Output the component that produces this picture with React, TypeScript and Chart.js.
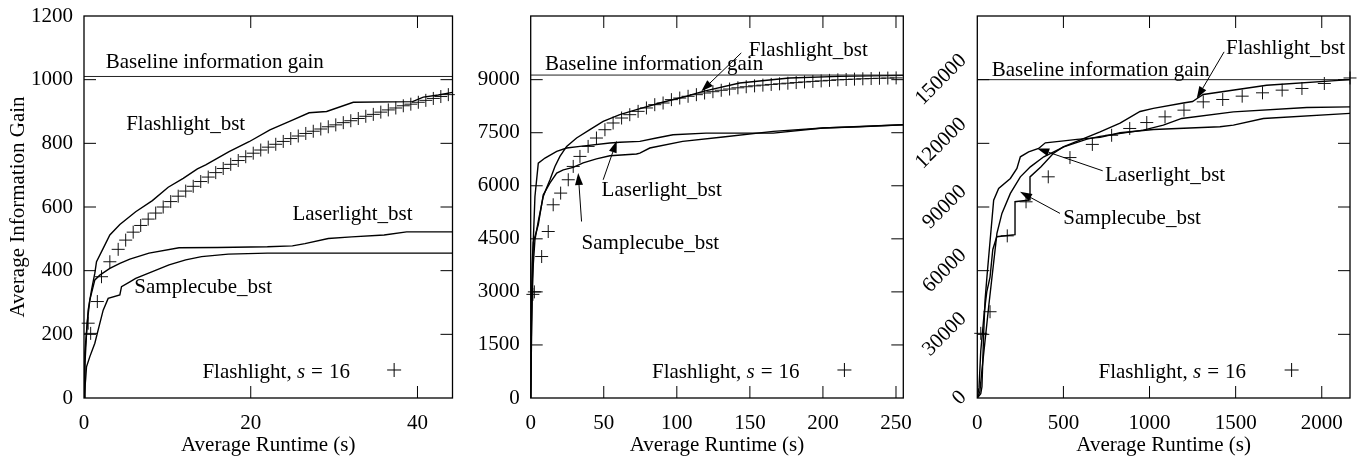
import React, { useEffect, useRef } from 'react';
import { Chart, registerables } from 'chart.js';

Chart.register(...registerables);

const FONT = "'Liberation Serif', 'Times New Roman', serif";
const FS = 21;

// ---------- shared ----------
const baselineGain = [1010, 9130, 150000];
const xMaxes = [44.2, 255, 2164];
const yMaxes = [1200, 10800, 180000];

// ---------- panel 1 ----------
const p1XTicks = [0, 20, 40];
const p1YTicks = [0, 200, 400, 600, 800, 1000, 1200];
const p1FlashBstX = [0, 0.1, 0.3, 0.5, 0.9, 1.3, 1.5, 2.3, 3.1, 4.3, 6.2, 8.2, 10.1, 11.9, 13.6, 14.6, 17.4, 19.8, 22.3, 25, 27, 29.1, 32.3, 39.4, 40.7, 42.5, 44.2];
const p1FlashBstY = [0, 100, 200, 276, 339, 392, 428, 470, 512, 545, 585, 620, 662, 690, 720, 732, 774, 805, 842, 873, 896, 900, 929, 931, 945, 952, 960];
const p1LaserX = [0, 0.1, 0.4, 0.7, 1.3, 1.9, 3.1, 4.3, 5.5, 7.8, 11.4, 16, 22, 25, 26.5, 29.3, 32.1, 36, 38.7, 44.2];
const p1LaserY = [0, 141, 240, 308, 371, 386, 407, 423, 436, 455, 472, 473, 475, 478, 485, 501, 506, 512, 522, 522];
const p1SampleX = [0, 0.2, 0.3, 0.7, 1.3, 1.7, 2.3, 2.9, 4.3, 4.5, 5.5, 6.2, 8.2, 10.2, 12.2, 14.1, 17.3, 22, 44.2];
const p1SampleY = [0, 60, 98, 130, 172, 214, 276, 313, 324, 350, 365, 376, 397, 418, 434, 444, 452, 455, 455];
const p1CrossX = [0.5, 0.8, 1.6, 2.1, 3.1, 4.1, 5.0, 5.9, 6.8, 7.7, 8.6, 9.5, 10.4, 11.3, 12.2, 13.1, 14.0, 14.9, 15.8, 16.7, 17.6, 18.5, 19.4, 20.3, 21.2, 22.1, 23.0, 23.9, 24.8, 25.7, 26.6, 27.5, 28.4, 29.3, 30.2, 31.1, 32.0, 32.9, 33.8, 34.7, 35.6, 36.5, 37.4, 38.3, 39.2, 40.1, 41.0, 41.9, 42.8, 43.7];
const p1CrossY = [235, 203, 303, 381, 428, 467, 496, 521, 542, 562, 581, 600, 617, 634, 650, 665, 680, 694, 708, 721, 734, 746, 758, 769, 779, 788, 797, 806, 815, 823, 831, 838, 845, 852, 858, 865, 871, 878, 885, 891, 898, 905, 911, 918, 923, 929, 935, 941, 947, 953];

// ---------- panel 2 ----------
const p2XTicks = [0, 50, 100, 150, 200, 250];
const p2YTicks = [0, 1500, 3000, 4500, 6000, 7500, 9000];
const p2FlashBstX = [0, 0.5, 1.0, 1.8, 2.9, 5.2, 8.6, 11, 13.2, 16.6, 20, 24.6, 31.4, 40.5, 49.6, 61, 72.4, 88.3, 106.6, 118, 143, 177, 211, 255];
const p2FlashBstY = [0, 1500, 2800, 3800, 4472, 5000, 5698, 5950, 6170, 6547, 6830, 7113, 7350, 7585, 7821, 8010, 8151, 8340, 8530, 8670, 8906, 9047, 9094, 9120];
const p2LaserX = [0, 0.5, 1.0, 1.8, 2.9, 5.2, 9.8, 17.8, 24.6, 33.7, 54.2, 61, 74.7, 86, 97.4, 120, 166, 200, 225, 255];
const p2LaserY = [0, 2500, 3800, 4472, 5698, 6642, 6784, 6972, 7068, 7113, 7208, 7230, 7254, 7350, 7444, 7490, 7490, 7633, 7670, 7727];
const p2SampleX = [0, 0.5, 1.0, 1.8, 5.2, 8.6, 13.2, 17.8, 22.3, 29.1, 35.9, 45, 54.2, 72.4, 74.7, 81.5, 104, 131.6, 166, 200, 255];
const p2SampleY = [0, 2000, 3200, 4400, 4900, 5745, 6080, 6360, 6450, 6520, 6650, 6760, 6850, 6900, 6925, 7068, 7254, 7379, 7538, 7633, 7727];
const p2CrossX = [1.5, 2.5, 7.5, 12, 15.4, 20.5, 25.7, 29.1, 33.7, 39.3, 45, 50.8, 56.4, 62.2, 67.8, 73.5, 79.2, 84.9, 90.6, 96.3, 102, 107.7, 113.4, 119, 124.7, 130.4, 136.1, 141.8, 147.5, 153.2, 158.9, 164.6, 170.3, 176, 181.7, 187.4, 193.1, 198.8, 204.5, 210.2, 215.9, 221.6, 227.3, 233, 238.7, 244.4, 250.1];
const p2CrossY = [2930, 3000, 4000, 4707, 5463, 5793, 6170, 6547, 6830, 7113, 7350, 7585, 7775, 7916, 8010, 8104, 8200, 8293, 8340, 8435, 8480, 8530, 8576, 8623, 8660, 8700, 8735, 8770, 8800, 8825, 8845, 8865, 8882, 8900, 8918, 8935, 8950, 8965, 8980, 8995, 9005, 9015, 9025, 9032, 9040, 9045, 9050];

// ---------- panel 3 ----------
const p3XTicks = [0, 500, 1000, 1500, 2000];
const p3YTicks = [0, 30000, 60000, 90000, 120000, 150000];
const p3FlashBstX = [0, 10, 20, 40, 55, 74, 90, 113, 219, 219, 306, 306, 370, 441, 499, 713, 829, 945, 1022, 1196, 1250, 1274, 1312, 1680, 2164];
const p3FlashBstY = [0, 5000, 22000, 40000, 50000, 57000, 70000, 76000, 77000, 92500, 93300, 104200, 109000, 115200, 118350, 125400, 129500, 135000, 136500, 139000, 139700, 141000, 143000, 147400, 150000];
const p3LaserX = [0, 20, 27, 37, 45, 56, 95, 124, 192, 230, 250, 298, 356, 395, 502, 579, 713, 829, 1022, 1409, 1487, 1661, 2164];
const p3LaserY = [0, 2000, 5300, 30470, 46000, 57130, 93250, 98760, 103470, 108180, 113650, 116000, 117600, 120240, 121180, 121840, 122800, 125000, 126500, 127800, 128600, 131700, 134100];
const p3SampleX = [0, 15, 27, 66, 114, 143, 192, 250, 308, 386, 502, 637, 713, 964, 1080, 1187, 1487, 1913, 2164];
const p3SampleY = [0, 3000, 13190, 43000, 77570, 86980, 96400, 104220, 108930, 113650, 118350, 122000, 123300, 126220, 128570, 131720, 134840, 136900, 137200];
const p3CrossX = [20, 74, 174, 283, 412, 538, 668, 780, 885, 984, 1090, 1200, 1312, 1425, 1538, 1656, 1770, 1885, 2015, 2164];
const p3CrossY = [30470, 40650, 76400, 92450, 104220, 113300, 119500, 123800, 127000, 129800, 132480, 135640, 139550, 140660, 142230, 143800, 145060, 145850, 148200, 150800];

const zip = (xs: number[], ys: number[]) => xs.map((x, i) => ({ x, y: ys[i] }));

type Txt = { t: string; x: number; y: number };
type Arr = { x1: number; y1: number; x2: number; y2: number };
interface PanelCfg {
  left: number; width: number; yAxisW: number; padRight: number;
  idx: number; xTicks: number[]; yTicks: number[];
  flash: { x: number; y: number }[]; laser: { x: number; y: number }[];
  sample: { x: number; y: number }[]; cross: { x: number; y: number }[];
  yTitle?: string; rotateY?: boolean;
  texts: Txt[]; arrows: Arr[]; legend: { x: number; y: number; crossX: number };
}

const panels: PanelCfg[] = [
  {
    left: 0, width: 460, yAxisW: 84, padRight: 3, idx: 0,
    xTicks: p1XTicks, yTicks: p1YTicks,
    flash: zip(p1FlashBstX, p1FlashBstY), laser: zip(p1LaserX, p1LaserY),
    sample: zip(p1SampleX, p1SampleY), cross: zip(p1CrossX, p1CrossY),
    yTitle: 'Average Information Gain',
    texts: [
      { t: 'Baseline information gain', x: 2.6, y: 1059 },
      { t: 'Flashlight_bst', x: 5.06, y: 864 },
      { t: 'Laserlight_bst', x: 25.0, y: 584 },
      { t: 'Samplecube_bst', x: 6.04, y: 355 },
    ],
    arrows: [],
    legend: { x: 31.9, y: 88, crossX: 37.2 },
  },
  {
    left: 460, width: 460, yAxisW: 70.7, padRight: 16.7, idx: 1,
    xTicks: p2XTicks, yTicks: p2YTicks,
    flash: zip(p2FlashBstX, p2FlashBstY), laser: zip(p2LaserX, p2LaserY),
    sample: zip(p2SampleX, p2SampleY), cross: zip(p2CrossX, p2CrossY),
    texts: [
      { t: 'Baseline information gain', x: 9.8, y: 9473 },
      { t: 'Flashlight_bst', x: 149.3, y: 9870 },
      { t: 'Laserlight_bst', x: 48.5, y: 5935 },
      { t: 'Samplecube_bst', x: 34.8, y: 4424 },
    ],
    arrows: [
      { x1: 144.1, y1: 9757, x2: 116.8, y2: 8670 },
      { x1: 49.6, y1: 6170, x2: 58.9, y2: 7274 },
      { x1: 34.8, y1: 4990, x2: 32.5, y2: 6360 },
    ],
    legend: { x: 184, y: 792, crossX: 214.7 },
  },
  {
    left: 900, width: 460, yAxisW: 77.3, padRight: 10, idx: 2,
    xTicks: p3XTicks, yTicks: p3YTicks,
    flash: zip(p3FlashBstX, p3FlashBstY), laser: zip(p3LaserX, p3LaserY),
    sample: zip(p3SampleX, p3SampleY), cross: zip(p3CrossX, p3CrossY),
    rotateY: true,
    texts: [
      { t: 'Baseline information gain', x: 83.6, y: 155280 },
      { t: 'Flashlight_bst', x: 1444, y: 165450 },
      { t: 'Laserlight_bst', x: 741.6, y: 105830 },
      { t: 'Samplecube_bst', x: 499.4, y: 85390 },
    ],
    arrows: [
      { x1: 1433, y1: 163100, x2: 1274, y2: 141150 },
      { x1: 728, y1: 107060, x2: 348, y2: 117600 },
      { x1: 480, y1: 86990, x2: 248, y2: 97160 },
    ],
    legend: { x: 1560, y: 13190, crossX: 1825 },
  },
];

const TL = 12;

function drawCross(ctx: CanvasRenderingContext2D, x: number, y: number, r: number) {
  ctx.beginPath();
  ctx.moveTo(x - r, y); ctx.lineTo(x + r, y);
  ctx.moveTo(x, y - r); ctx.lineTo(x, y + r);
  ctx.stroke();
}

function makeDeco(cfg: PanelCfg) {
  return {
    id: 'deco' + cfg.idx,
    afterDraw(chart: any) {
      const { ctx, chartArea: a, scales } = chart;
      const xs = scales.x, ys = scales.y;
      ctx.save();
      ctx.strokeStyle = '#000';
      ctx.fillStyle = '#000';
      ctx.lineWidth = 1;
      ctx.beginPath();
      for (const v of cfg.xTicks) {
        if (v <= xs.min || v >= xs.max) continue;
        const p = xs.getPixelForValue(v);
        ctx.moveTo(p, a.bottom); ctx.lineTo(p, a.bottom - TL);
        ctx.moveTo(p, a.top); ctx.lineTo(p, a.top + TL);
      }
      for (const v of cfg.yTicks) {
        if (v <= ys.min || v >= ys.max) continue;
        const p = ys.getPixelForValue(v);
        ctx.moveTo(a.left, p); ctx.lineTo(a.left + TL, p);
        ctx.moveTo(a.right, p); ctx.lineTo(a.right - TL, p);
      }
      ctx.stroke();
      ctx.lineWidth = 1.3;
      ctx.strokeRect(a.left, a.top, a.right - a.left, a.bottom - a.top);

      const DY = 2;
      // rotated y labels
      ctx.font = `${FS}px ${FONT}`;
      if (cfg.rotateY) {
        for (const v of cfg.yTicks) {
          const s = String(v);
          const w = ctx.measureText(s).width;
          const hw = (w / 2) * Math.SQRT1_2;
          const cx = a.left - 14 - hw;
          const cy = ys.getPixelForValue(v);
          ctx.save();
          ctx.translate(cx, cy);
          ctx.rotate(-Math.PI / 4);
          ctx.textAlign = 'center';
          ctx.textBaseline = 'middle';
          ctx.fillText(s, 0, 0);
          ctx.restore();
        }
      }

      // texts
      ctx.textAlign = 'left';
      ctx.textBaseline = 'middle';
      for (const t of cfg.texts) {
        ctx.fillText(t.t, xs.getPixelForValue(t.x), ys.getPixelForValue(t.y) + DY);
      }
      // arrows
      ctx.lineWidth = 1;
      for (const ar of cfg.arrows) {
        const x1 = xs.getPixelForValue(ar.x1), y1 = ys.getPixelForValue(ar.y1);
        const x2 = xs.getPixelForValue(ar.x2), y2 = ys.getPixelForValue(ar.y2);
        const ang = Math.atan2(y2 - y1, x2 - x1);
        const hl = 12, hw = 4;
        const bx = x2 - hl * Math.cos(ang), by = y2 - hl * Math.sin(ang);
        ctx.beginPath();
        ctx.moveTo(x1, y1); ctx.lineTo(bx, by);
        ctx.stroke();
        ctx.beginPath();
        ctx.moveTo(x2, y2);
        ctx.lineTo(bx + hw * Math.sin(ang), by - hw * Math.cos(ang));
        ctx.lineTo(bx - hw * Math.sin(ang), by + hw * Math.cos(ang));
        ctx.closePath();
        ctx.fill();
      }
      // legend: "Flashlight, s = 16" with math spacing around "="
      const parts: [string, boolean, number][] = [['Flashlight, ', false, 0], ['s', true, 6], ['=', false, 6], ['16', false, 0]];
      let total = 0;
      for (const [s, it, gap] of parts) {
        ctx.font = `${it ? 'italic ' : ''}${FS}px ${FONT}`;
        total += ctx.measureText(s).width + gap;
      }
      let lx = xs.getPixelForValue(cfg.legend.x) - total;
      const ly = ys.getPixelForValue(cfg.legend.y);
      for (const [s, it, gap] of parts) {
        ctx.font = `${it ? 'italic ' : ''}${FS}px ${FONT}`;
        ctx.fillText(s, lx, ly + DY);
        lx += ctx.measureText(s).width + gap;
      }
      drawCross(ctx, xs.getPixelForValue(cfg.legend.crossX), ly, 7);
      ctx.restore();
    },
  };
}

function buildConfig(cfg: PanelCfg): any {
  const i = cfg.idx;
  const line = (data: any[]) => ({
    data, showLine: true, borderColor: '#000', borderWidth: 1.4, pointRadius: 0, tension: 0, fill: false,
  });
  const font = { family: FONT, size: FS };
  return {
    type: 'scatter',
    data: {
      datasets: [
        { ...line([{ x: 0, y: baselineGain[i] }, { x: xMaxes[i], y: baselineGain[i] }]), borderWidth: 1, borderColor: '#222' },
        line(cfg.flash),
        line(cfg.laser),
        line(cfg.sample),
        {
          data: cfg.cross, showLine: false, pointStyle: 'cross', pointRadius: 6.5, pointHoverRadius: 6.5,
          pointBorderWidth: 1, borderColor: '#111', backgroundColor: '#111', clip: false,
        },
      ],
    },
    options: {
      responsive: false,
      animation: false,
      events: [],
      layout: { padding: { top: 16, right: cfg.padRight, left: 0, bottom: 0 } },
      plugins: { legend: { display: false }, tooltip: { enabled: false } },
      scales: {
        x: {
          type: 'linear', min: 0, max: xMaxes[i],
          grid: { display: false, drawTicks: false }, border: { display: false },
          ticks: { font, color: '#000', padding: 13, autoSkip: false, maxRotation: 0, callback: (v: any) => String(v) },
          title: { display: true, text: 'Average Runtime (s)', font, color: '#000', padding: { top: 0, bottom: 0 } },
          afterBuildTicks: (s: any) => { s.ticks = cfg.xTicks.map((v) => ({ value: v })); },
          afterFit: (s: any) => { s.height = 60; s.paddingLeft = 0; s.paddingRight = 0; },
        },
        y: {
          type: 'linear', min: 0, max: yMaxes[i],
          grid: { display: false, drawTicks: false }, border: { display: false },
          ticks: { display: !cfg.rotateY, font, color: '#000', padding: 11, autoSkip: false, callback: (v: any) => String(v) },
          title: { display: !!cfg.yTitle, text: cfg.yTitle || '', font, color: '#000', padding: { top: 6, bottom: 0 } },
          afterBuildTicks: (s: any) => { s.ticks = cfg.yTicks.map((v) => ({ value: v })); },
          afterFit: (s: any) => { s.width = cfg.yAxisW; s.paddingTop = 0; s.paddingBottom = 0; },
        },
      },
    },
    plugins: [makeDeco(cfg)],
  };
}

function Panel({ cfg }: { cfg: PanelCfg }) {
  const ref = useRef<HTMLCanvasElement>(null);
  useEffect(() => {
    const chart = new Chart(ref.current as HTMLCanvasElement, buildConfig(cfg));
    return () => chart.destroy();
  }, [cfg]);
  return (
    <canvas
      ref={ref}
      width={cfg.width}
      height={458}
      style={{ position: 'absolute', left: cfg.left, top: 0, width: cfg.width, height: 458 }}
    />
  );
}

export default function App() {
  return (
    <div style={{ position: 'absolute', left: 0, top: 0, width: 1360, height: 458, background: '#fff', overflow: 'hidden' }}>
      {panels.map((p) => (
        <Panel key={p.idx} cfg={p} />
      ))}
    </div>
  );
}
